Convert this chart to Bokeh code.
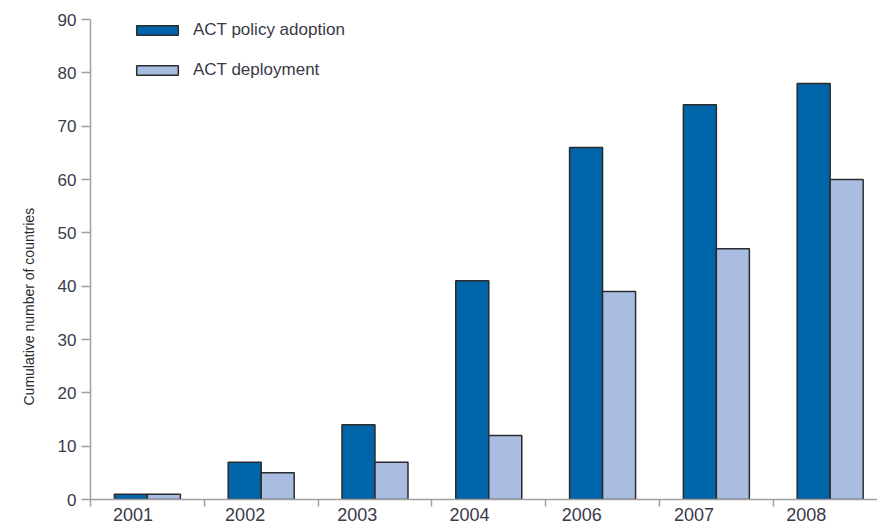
from bokeh.plotting import figure
from bokeh.models import ColumnDataSource, FixedTicker, Range1d, Legend, LegendItem, Title
from bokeh.embed import file_html
from bokeh.resources import INLINE

years = ["2001", "2002", "2003", "2004", "2006", "2007", "2008"]
policy_adoption = [1, 7, 14, 41, 66, 74, 78]
deployment = [1, 5, 7, 12, 39, 47, 60]
y_ticks = [0, 10, 20, 30, 40, 50, 60, 70, 80, 90]

DARK = "#0064a8"
LIGHT = "#a9bde3"
EDGE = "#2b2b2b"
TXT = "#3a3a48"
AXIS = "#a0a0a0"

n = len(years)
centers = [i + 0.5 for i in range(n)]
label_pos = [0.373 + 0.986 * i for i in range(n)]
bw = 0.29
src = ColumnDataSource(dict(
    xd=[c - bw / 2 for c in centers],
    xl=[c + bw / 2 for c in centers],
    pa=policy_adoption,
    dp=deployment,
))

p = figure(output_backend="svg", toolbar_location=None,
           width=877, height=525,
           x_range=Range1d(0, 6.916), y_range=Range1d(0, 90))
p.min_border_left = 90
p.min_border_top = 19
p.min_border_bottom = 26
p.min_border_right = 0
p.outline_line_color = None
p.background_fill_color = "white"
p.border_fill_color = "white"
p.grid.visible = False

r1 = p.vbar(x="xd", top="pa", width=bw, bottom=0, source=src,
            fill_color=DARK, line_color=EDGE, line_width=1.5)
r2 = p.vbar(x="xl", top="dp", width=bw, bottom=0, source=src,
            fill_color=LIGHT, line_color=EDGE, line_width=1.5)

# x axis
xa = p.xaxis[0]
xa.ticker = FixedTicker(ticks=label_pos, minor_ticks=list(range(n + 1)))
xa.major_label_overrides = {c: y for c, y in zip(label_pos, years)}
xa.major_tick_line_color = None
xa.major_tick_in = 0
xa.major_tick_out = 0
xa.minor_tick_line_color = AXIS
xa.minor_tick_line_width = 1.5
xa.minor_tick_in = 0
xa.minor_tick_out = 7
xa.axis_line_color = AXIS
xa.axis_line_width = 1.5
xa.major_label_standoff = 1
xa.major_label_text_font = "Liberation Sans"
xa.major_label_text_font_size = "18px"
xa.major_label_text_color = TXT

# y axis
ya = p.yaxis[0]
ya.ticker = FixedTicker(ticks=y_ticks)
ya.minor_tick_line_color = None
ya.major_tick_line_color = AXIS
ya.major_tick_line_width = 1.5
ya.major_tick_in = 0
ya.major_tick_out = 9
ya.axis_line_color = AXIS
ya.axis_line_width = 1.5
ya.major_label_standoff = 5
ya.major_label_text_font = "Liberation Sans"
ya.major_label_text_font_size = "17px"
ya.major_label_text_color = TXT

ytitle = Title(text="Cumulative number of countries", align="left", offset=94,
               text_font="Liberation Sans", text_font_style="normal",
               text_font_size="14px", text_color="#2a2a2a", standoff=35)
p.add_layout(ytitle, "left")

legend = Legend(items=[
    LegendItem(label="ACT policy adoption", renderers=[r1]),
    LegendItem(label="ACT deployment", renderers=[r2]),
], location=(41, 419))
legend.glyph_width = 52
legend.glyph_height = 12
legend.label_height = 12
legend.label_standoff = 10
legend.spacing = 20
legend.padding = 0
legend.margin = 0
legend.border_line_color = None
legend.background_fill_alpha = 0
legend.label_text_font = "Liberation Sans"
legend.label_text_font_size = "17px"
legend.label_text_color = TXT
p.add_layout(legend, "center")

open("out.html", "w").write(file_html(p, INLINE))
